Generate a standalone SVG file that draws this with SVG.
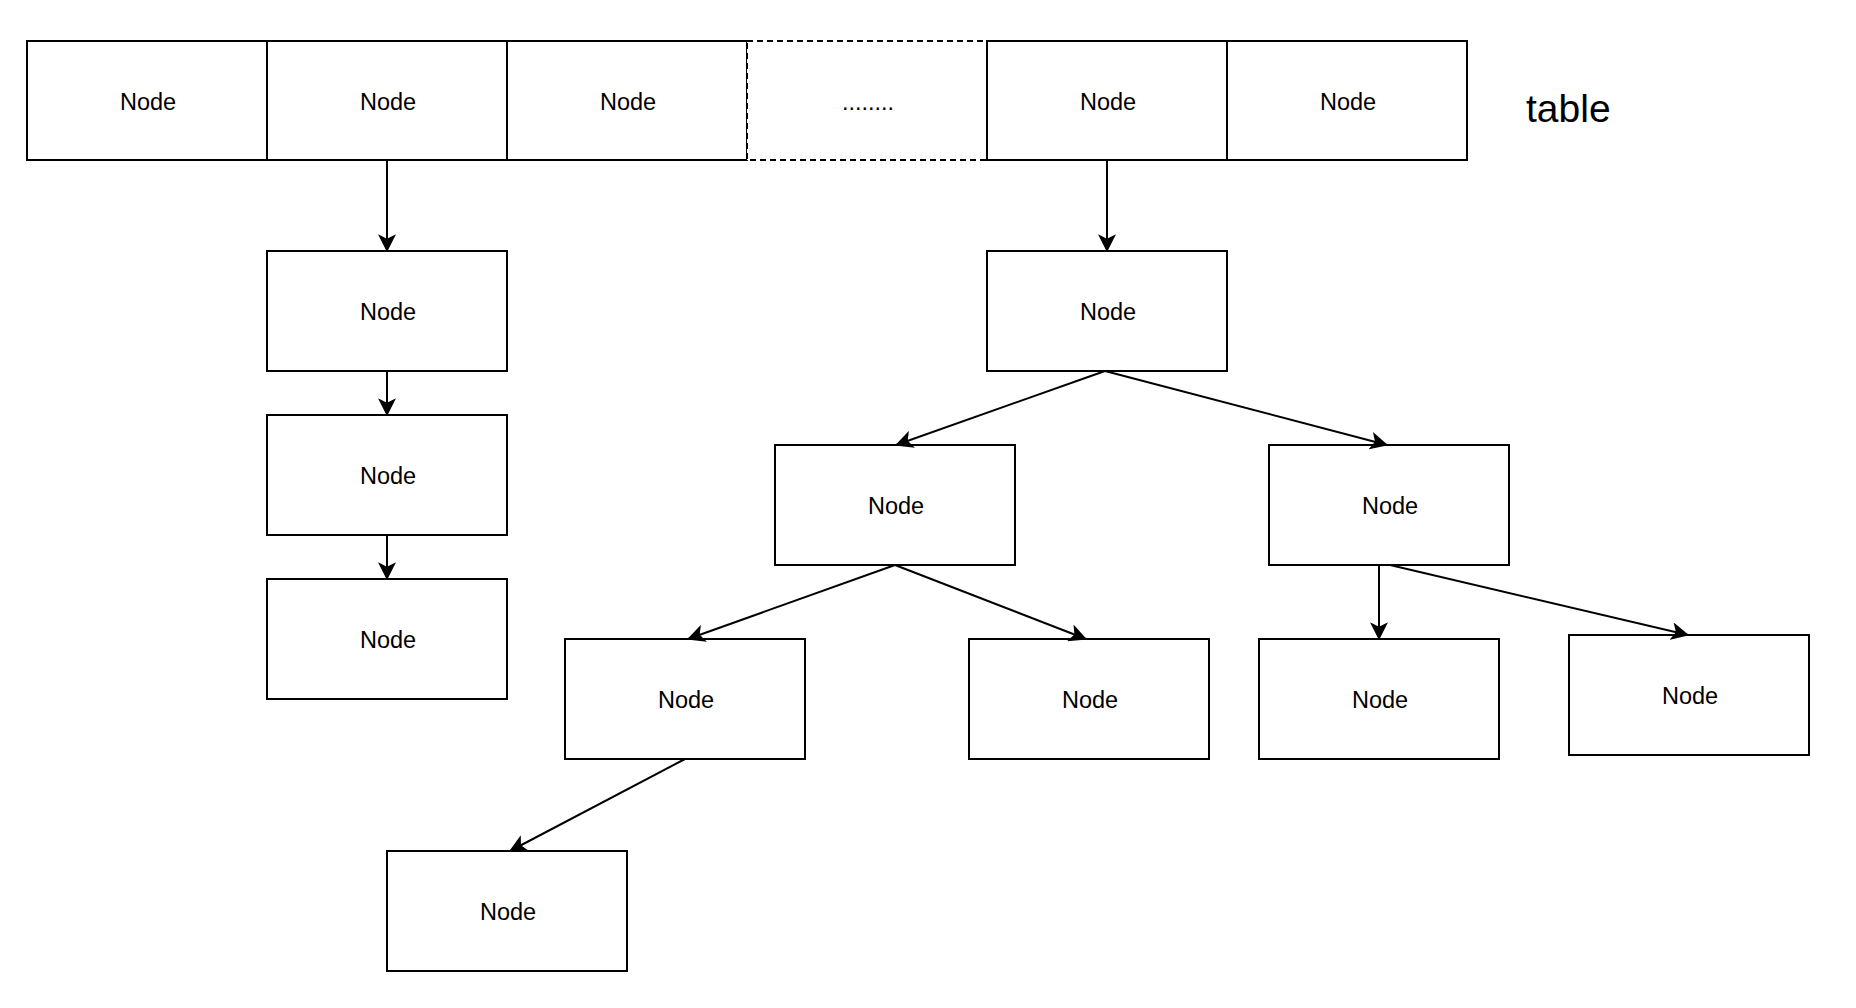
<svg xmlns="http://www.w3.org/2000/svg" width="1856" height="1008" viewBox="0 0 1856 1008">
<style>
.box{fill:#ffffff;stroke:#000000;stroke-width:2}
.dash{fill:#ffffff;stroke:#000000;stroke-width:2;stroke-dasharray:6 4}
.lbl{font-family:"Liberation Sans",Arial,Helvetica,sans-serif;font-size:23.5px;fill:#000000;text-anchor:middle}
.title{font-family:"Liberation Sans",Arial,Helvetica,sans-serif;font-size:39px;fill:#000000}
.edge{fill:none;stroke:#000000;stroke-width:2;marker-end:url(#arr)}
</style>
<defs>
<marker id="arr" markerUnits="userSpaceOnUse" markerWidth="18" markerHeight="18" viewBox="0 0 16 16" refX="15" refY="8" orient="auto">
<path d="M0,0 L16,8 L0,16 L4,8 Z" fill="#000000"/>
</marker>
</defs>
<rect width="1856" height="1008" fill="#ffffff"/>
<g id="table-row">
<g id="cell1"><rect class="box" x="27" y="41" width="240" height="119"/><text class="lbl" x="148" y="110">Node</text></g>
<g id="cell2"><rect class="box" x="267" y="41" width="240" height="119"/><text class="lbl" x="388" y="110">Node</text></g>
<g id="cell3"><rect class="box" x="507" y="41" width="240" height="119"/><text class="lbl" x="628" y="110">Node</text></g>
<g id="cell4"><rect class="dash" x="747" y="41" width="240" height="119"/><text class="lbl" x="868" y="110">........</text></g>
<g id="cell5"><rect class="box" x="987" y="41" width="240" height="119"/><text class="lbl" x="1108" y="110">Node</text></g>
<g id="cell6"><rect class="box" x="1227" y="41" width="240" height="119"/><text class="lbl" x="1348" y="110">Node</text></g>
</g>
<g id="table-label"><text class="title" x="1526" y="122">table</text></g>
<g id="chain1"><rect class="box" x="267" y="251" width="240" height="120"/><text class="lbl" x="388" y="319.5">Node</text></g>
<g id="chain2"><rect class="box" x="267" y="415" width="240" height="120"/><text class="lbl" x="388" y="483.5">Node</text></g>
<g id="chain3"><rect class="box" x="267" y="579" width="240" height="120"/><text class="lbl" x="388" y="647.5">Node</text></g>
<g id="root"><rect class="box" x="987" y="251" width="240" height="120"/><text class="lbl" x="1108" y="319.5">Node</text></g>
<g id="l2a"><rect class="box" x="775" y="445" width="240" height="120"/><text class="lbl" x="896" y="513.5">Node</text></g>
<g id="l2b"><rect class="box" x="1269" y="445" width="240" height="120"/><text class="lbl" x="1390" y="513.5">Node</text></g>
<g id="l3a"><rect class="box" x="565" y="639" width="240" height="120"/><text class="lbl" x="686" y="707.5">Node</text></g>
<g id="l3b"><rect class="box" x="969" y="639" width="240" height="120"/><text class="lbl" x="1090" y="707.5">Node</text></g>
<g id="l3c"><rect class="box" x="1259" y="639" width="240" height="120"/><text class="lbl" x="1380" y="707.5">Node</text></g>
<g id="l3d"><rect class="box" x="1569" y="635" width="240" height="120"/><text class="lbl" x="1690" y="703.5">Node</text></g>
<g id="l4"><rect class="box" x="387" y="851" width="240" height="120"/><text class="lbl" x="508" y="919.5">Node</text></g>
<g id="connectors">
<path class="edge" d="M387,160 L387,251"/>
<path class="edge" d="M387,371 L387,415"/>
<path class="edge" d="M387,535 L387,579"/>
<path class="edge" d="M1107,160 L1107,251"/>
<path class="edge" d="M1105,371 L896,445"/>
<path class="edge" d="M1105,371 L1387,445"/>
<path class="edge" d="M895,565 L688,639"/>
<path class="edge" d="M895,565 L1086,639"/>
<path class="edge" d="M1379,565 L1379,639"/>
<path class="edge" d="M1390,565 L1688,635"/>
<path class="edge" d="M685,759 L510,851"/>
</g>
</svg>
